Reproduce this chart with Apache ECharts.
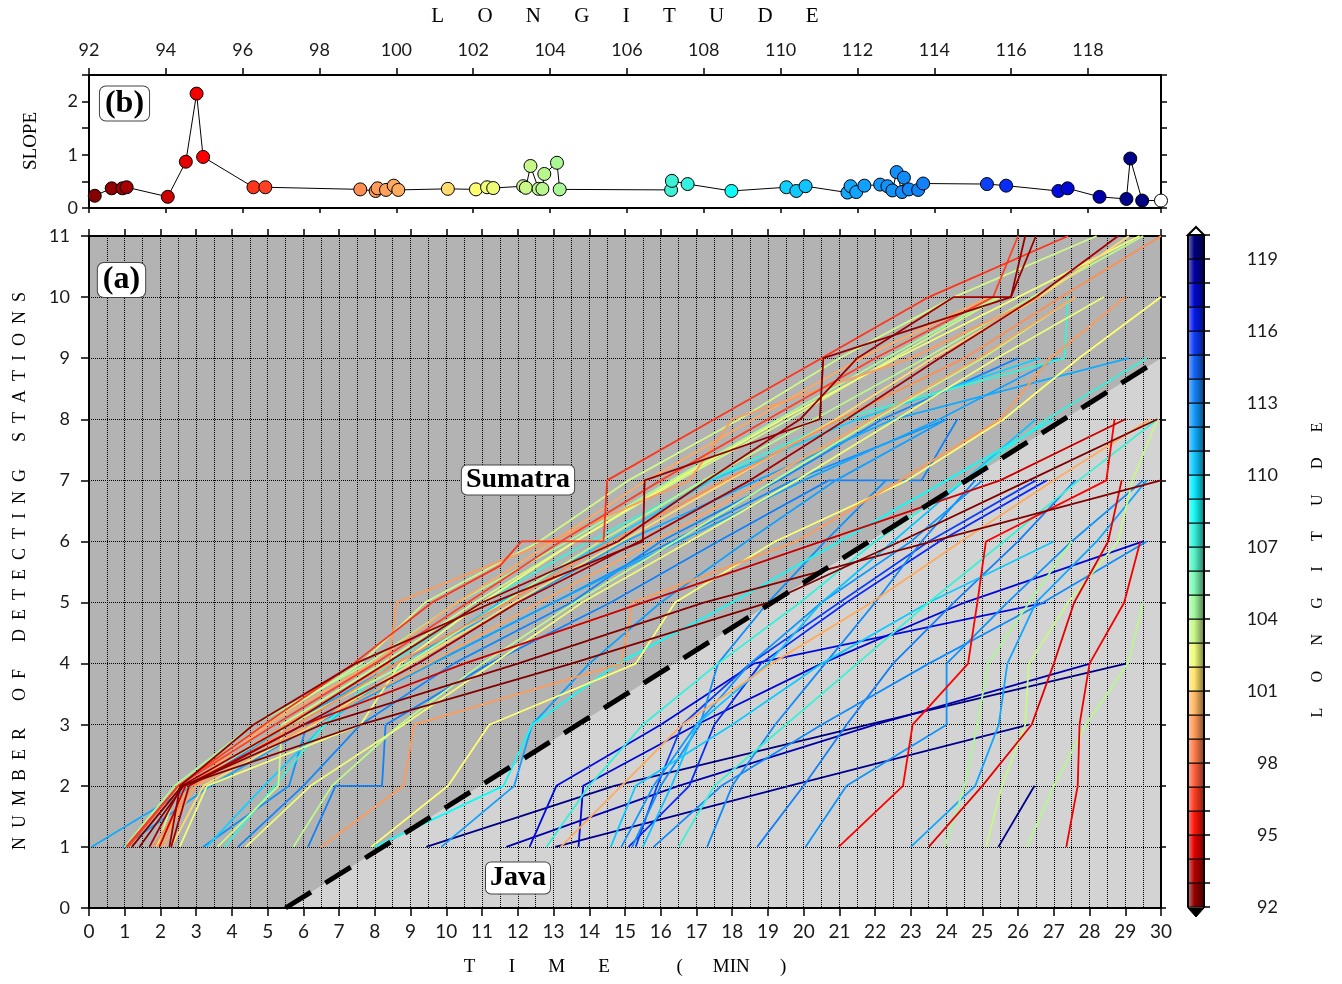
<!DOCTYPE html>
<html>
<head>
<meta charset="utf-8">
<script src="https://cdn.jsdelivr.net/npm/echarts@6/dist/echarts.min.js"></script>
<style>
  html, body { margin: 0; padding: 0; background: #ffffff; }
  #chart { width: 1342px; height: 984px; }
</style>
</head>
<body>
<div id="chart"></div>
<script>
// ---------- panel (b): slope of each detection curve vs. epicentre longitude ----------
const slopeLon = [91.92, 92.15, 92.59, 92.87, 92.98, 94.05, 94.52, 94.80, 94.97, 96.28, 96.59,
  99.06, 99.46, 99.51, 99.73, 99.93, 100.05, 101.34, 102.07, 102.36, 102.52,
  103.30, 103.37, 103.49, 103.70, 103.80, 103.85, 104.18, 104.25,
  107.15, 107.17, 107.58, 108.72, 110.15, 110.41, 110.65,
  111.74, 111.82, 111.97, 112.18, 112.59, 112.78, 112.91, 113.02, 113.16, 113.21, 113.34, 113.58, 113.71,
  115.37, 115.87, 117.23, 117.47, 118.30, 119.00, 119.10, 119.41, 119.90];
const slopeVal = [0.21, 0.23, 0.37, 0.37, 0.39, 0.21, 0.87, 2.15, 0.96, 0.39, 0.39,
  0.35, 0.32, 0.37, 0.34, 0.42, 0.34, 0.36, 0.35, 0.39, 0.375,
  0.41, 0.38, 0.79, 0.36, 0.36, 0.64, 0.85, 0.35,
  0.34, 0.51, 0.45, 0.32, 0.39, 0.32, 0.41,
  0.29, 0.41, 0.30, 0.42, 0.44, 0.41, 0.33, 0.675, 0.30, 0.57, 0.35, 0.34, 0.46,
  0.45, 0.42, 0.32, 0.37, 0.21, 0.17, 0.93, 0.14, 0.14];

// ---------- panel (a): [time (min), number of detecting stations] per event ----------
// Sumatra events
const ev9192 = [[1.2,1],[2.6,2],[7.6,3],[13.5,4],[19.0,5],[22.7,6],[26.3,7],[29.9,8]];
const ev9215 = [[1.41,1],[2.65,2],[6.5,3],[12.0,4],[17.2,5],[23.6,6],[30.0,7]];
const ev9259 = [[2.25,1],[2.55,2],[4.6,3],[7.45,4],[11.3,5],[15.5,6],[15.55,7],[20.45,8],[20.55,9],[25.8,10],[26.2,11]];
const ev9287 = [[1.69,1],[2.6,2],[5.6,3],[8.3,4],[11.0,5],[14.8,6],[17.3,7],[19.9,8],[21.5,9],[24.2,10],[25.8,10],[26.5,11]];
const ev9298 = [[2.3,1],[2.8,2],[6.0,3],[9.2,4],[12.0,5],[15.4,6],[18.5,7],[21.2,8],[23.8,9],[26.5,10],[28.8,11]];
const ev9405 = [[1.97,1],[2.7,2],[6.0,3],[10.5,4],[15.5,5],[20.5,6],[25.5,7],[29.0,8]];
const ev9452 = [[23.5,1],[25.0,2],[26.38,3],[27.0,4],[27.57,5],[28.52,6],[28.9,7]];
const ev9480 = [[27.35,1],[27.67,2],[27.72,3],[28.0,4],[28.97,5],[29.42,6]];
const ev9497 = [[20.98,1],[22.78,2],[23.05,3],[24.6,4],[24.86,5],[25.1,6],[28.47,7],[28.7,8]];
const ev9628 = [[1.04,1],[2.5,2],[4.9,3],[7.4,4],[9.6,5],[11.5,5.6],[12.1,6],[14.4,6],[14.5,7],[17.5,8],[20.5,9],[23.5,10],[27.4,11]];
const ev9659 = [[1.1,1],[2.5,2],[5.2,3],[8.0,4],[10.6,5],[13.2,6],[16.0,7],[19.0,8],[22.0,9],[25.3,10],[26.0,11]];
const ev9906 = [[1.8,1],[2.9,2],[5.8,3],[8.6,4],[11.7,5],[14.6,6],[17.8,7],[21.0,8],[24.5,9],[27.2,10],[30.0,11]];
const ev9946 = [[6.5,1],[8.8,2],[9.1,3],[14.9,4],[15.2,5],[19.8,6],[22.7,7],[25.5,8],[26.9,9],[29.0,10]];
const ev9951 = [[2.0,1],[2.7,2],[5.5,3],[8.4,4],[8.6,5],[12.9,6],[16.8,7],[18.0,8],[23.0,9],[26.6,10]];
const ev9973 = [[1.9,1],[3.0,2],[6.2,3],[9.5,4],[12.6,5],[15.8,6],[18.9,7],[21.9,8],[24.9,9],[27.6,10]];
const ev9993 = [[2.1,1],[2.8,2],[5.0,3],[7.9,4],[10.3,5],[13.0,6],[15.6,7],[18.6,8],[21.6,9],[25.2,10]];
const ev10005 = [[13.2,1],[14.9,2],[16.6,3],[19.1,4],[21.9,5],[24.4,6],[27.0,7],[29.7,8]];
const ev10134 = [[2.3,1],[3.2,2],[6.3,3],[9.0,4],[11.9,5],[14.9,6],[17.9,7],[20.9,8],[23.6,9],[26.6,10],[29.1,11]];
const ev10207 = [[7.9,1],[10.05,2],[11.2,3],[15.3,4],[16.4,5],[19.2,6],[22.9,7],[25.6,8],[27.7,9],[30.0,10]];
const ev10236 = [[2.54,1],[3.3,2],[7.6,3],[8.7,4],[11.0,5],[13.6,6],[16.4,7],[19.4,8],[22.6,9],[26.0,10],[29.4,11]];
const ev10252 = [[4.39,1],[6.2,2],[8.8,3],[11.3,4],[13.8,5],[16.8,6],[19.8,7],[22.6,8],[25.4,9],[28.4,10]];
const ev10330 = [[1.9,1],[2.5,2],[4.9,3],[7.6,4],[9.4,5],[12.6,6],[15.1,7],[18.2,8],[21.0,9],[24.2,10],[28.2,11]];
const ev10337 = [[3.6,1],[5.3,2],[5.4,3],[8.2,4],[10.8,5],[13.6,6],[16.5,7],[19.6,8],[22.5,9],[25.5,10]];
const ev10349 = [[25.1,1],[25.55,2],[26.2,3],[26.3,4],[27.4,5],[28.8,6],[29.2,7],[29.9,8]];
const ev10370 = [[5.72,1],[6.8,2],[8.7,3],[11.0,4],[13.6,5],[16.4,6],[19.2,7],[22.0,8],[25.0,9],[27.6,10]];
const ev10380 = [[2.0,1],[2.7,2],[5.6,3],[8.9,4],[11.6,5],[14.3,6],[17.2,7],[20.3,8],[23.4,9],[26.4,10],[29.5,11]];
const ev10385 = [[26.25,1],[27.0,2],[27.9,3],[29.07,4],[29.5,5]];
const ev10418 = [[23.95,1],[24.5,2],[24.86,3],[25.16,4],[26.31,5],[27.5,6]];
const ev10425 = [[1.0,1],[2.4,2],[4.6,3],[7.8,4],[10.3,5],[13.4,6],[16.3,7],[19.3,8],[22.3,9],[25.4,10]];
// Java events
const ev10715 = [[3.8,1],[5.2,2],[6.6,3],[8.4,4],[11.0,5],[14.0,6],[17.3,7],[21.0,8],[27.3,9],[27.4,10]];
const ev10717 = [[16.5,1],[17.5,2],[19.5,3],[21.5,4],[23.5,5],[25.6,6],[27.7,7],[29.9,8]];
const ev10758 = [[12.8,1],[14.0,2],[15.5,3],[17.6,4],[19.9,5],[22.0,6],[24.5,7],[26.8,8],[29.6,9]];
const ev10872 = [[8.0,1],[11.6,2],[12.4,3],[14.8,4],[18.0,5],[21.0,6],[24.0,7],[27.0,8]];
const ev11015 = [[3.29,1],[4.9,2],[6.6,3],[8.9,4],[11.5,5],[14.5,6],[17.4,7],[21.5,8],[26.6,9]];
const ev11041 = [[14.6,1],[15.3,2],[18.0,3],[20.5,4],[23.5,5],[27.0,6]];
const ev11065 = [[15.5,1],[16.3,2],[17.0,3],[19.0,4],[20.5,5],[22.5,6],[24.5,7],[26.5,8]];
const ev11174 = [[0.07,1],[2.9,2],[5.6,3],[8.6,4],[12.0,5],[15.0,6],[18.7,7],[22.5,8],[29.1,9]];
const ev11182 = [[23.0,1],[24.8,2],[25.46,3],[25.7,4],[26.5,5],[28.2,6],[29.6,7]];
const ev11197 = [[0.95,1],[3.4,2],[6.3,3],[9.6,4],[13.0,5],[16.5,6],[20.0,7],[23.8,8],[27.1,9]];
const ev11218 = [[9.86,1],[11.9,2],[12.4,3],[14.0,4],[16.0,5],[18.4,6],[20.9,7],[24.0,8]];
const ev11259 = [[14.9,1],[15.8,2],[17.0,3],[18.5,4],[20.5,5],[23.0,6],[25.0,7]];
const ev11278 = [[20.05,1],[21.2,2],[24.0,3],[24.0,4],[25.7,5],[27.5,6],[29.5,7]];
const ev11291 = [[3.19,1],[5.6,2],[6.1,3],[9.6,4],[13.0,5],[16.3,6],[19.7,7],[24.0,8]];
const ev11302 = [[15.2,1],[16.0,2],[17.1,3],[17.6,4],[19.0,5],[20.6,6],[22.3,7]];
const ev11316 = [[15.8,1],[17.7,2],[20.5,3],[23.5,4],[26.7,5],[29.6,6]];
const ev11321 = [[17.3,1],[18.0,2],[19.2,3],[20.6,4],[22.0,5],[23.3,6],[24.8,7]];
const ev11334 = [[4.17,1],[6.0,2],[7.6,3],[10.2,4],[13.5,5],[16.0,6],[19.3,7],[22.2,8],[26.0,9]];
const ev11358 = [[6.13,1],[6.9,2],[8.2,2],[8.3,3],[11.2,4],[14.6,5],[17.6,6],[20.7,7],[23.3,7],[24.3,8]];
const ev11371 = [[18.7,1],[20.0,2],[21.2,3],[22.5,4],[24.2,5],[26.0,6],[27.6,7]];
const ev11537 = [[15.3,1],[15.9,2],[16.6,3],[18.5,4],[21.0,5],[23.5,6],[26.5,7]];
const ev11587 = [[15.1,1],[16.8,2],[17.5,3],[18.8,4],[21.2,5],[23.8,6],[26.8,7]];
const ev11723 = [[12.33,1],[13.08,2],[16.0,3],[18.6,4],[26.77,5]];
const ev11747 = [[13.7,1],[13.83,2],[17.0,3],[20.5,4],[24.5,5],[29.5,6]];
const ev11830 = [[11.68,1],[16.5,2],[22.0,3],[28.02,4]];
const ev11900 = [[13.05,1],[19.6,2],[26.3,3]];
const ev11910 = [[25.45,1],[26.46,2]];
const ev11941 = [[9.44,1],[14.7,2],[21.8,3],[29.02,4]];

const events = [
  {lon: 91.92, path: ev9192}, {lon: 92.15, path: ev9215}, {lon: 92.59, path: ev9259},
  {lon: 92.87, path: ev9287}, {lon: 92.98, path: ev9298}, {lon: 94.05, path: ev9405},
  {lon: 94.52, path: ev9452}, {lon: 94.80, path: ev9480}, {lon: 94.97, path: ev9497},
  {lon: 96.28, path: ev9628}, {lon: 96.59, path: ev9659}, {lon: 99.06, path: ev9906},
  {lon: 99.46, path: ev9946}, {lon: 99.51, path: ev9951}, {lon: 99.73, path: ev9973},
  {lon: 99.93, path: ev9993}, {lon: 100.05, path: ev10005}, {lon: 101.34, path: ev10134},
  {lon: 102.07, path: ev10207}, {lon: 102.36, path: ev10236}, {lon: 102.52, path: ev10252},
  {lon: 103.30, path: ev10330}, {lon: 103.37, path: ev10337}, {lon: 103.49, path: ev10349},
  {lon: 103.70, path: ev10370}, {lon: 103.80, path: ev10380}, {lon: 103.85, path: ev10385},
  {lon: 104.18, path: ev10418}, {lon: 104.25, path: ev10425},
  {lon: 107.15, path: ev10715}, {lon: 107.17, path: ev10717}, {lon: 107.58, path: ev10758},
  {lon: 108.72, path: ev10872}, {lon: 110.15, path: ev11015}, {lon: 110.41, path: ev11041},
  {lon: 110.65, path: ev11065}, {lon: 111.74, path: ev11174}, {lon: 111.82, path: ev11182},
  {lon: 111.97, path: ev11197}, {lon: 112.18, path: ev11218}, {lon: 112.59, path: ev11259},
  {lon: 112.78, path: ev11278}, {lon: 112.91, path: ev11291}, {lon: 113.02, path: ev11302},
  {lon: 113.16, path: ev11316}, {lon: 113.21, path: ev11321}, {lon: 113.34, path: ev11334},
  {lon: 113.58, path: ev11358}, {lon: 113.71, path: ev11371}, {lon: 115.37, path: ev11537},
  {lon: 115.87, path: ev11587}, {lon: 117.23, path: ev11723}, {lon: 117.47, path: ev11747},
  {lon: 118.30, path: ev11830}, {lon: 119.00, path: ev11900}, {lon: 119.10, path: ev11910},
  {lon: 119.41, path: ev11941}
];

// Sumatra / Java separator: [time, stations] end points
const separator = [[5.5, 0], [30, 9]];

// colour bar bins (1 degree each)
const cbBins = [92,93,94,95,96,97,98,99,100,101,102,103,104,105,106,107,108,109,110,111,112,113,114,115,116,117,118,119];
const LON_MIN = 92, LON_MAX = 119.9, CB_MAX = 120;

// ---------- colour scale ----------
const cmapStops = [
  [92,'#800000'],[93,'#a40000'],[94,'#c80000'],[95,'#ff0000'],[96,'#ff2a10'],[97,'#ff5030'],
  [98,'#ff7044'],[99,'#ff8c50'],[100,'#ffaa60'],[101,'#ffc868'],[102,'#ffff70'],[103,'#dcf882'],
  [104,'#b0f890'],[105,'#90f8a8'],[106,'#68f8c0'],[107,'#40f0d0'],[108,'#28f4e8'],[109,'#00ffff'],
  [110,'#10d4ff'],[111,'#10bcff'],[112,'#10a4ff'],[113,'#1090f8'],[114,'#1478f8'],[115,'#1050f8'],
  [116,'#0828f8'],[117,'#0010e8'],[118,'#0000b8'],[119,'#00008c'],[120,'#000070']];
function hexRgb(h) { return [parseInt(h.slice(1,3),16), parseInt(h.slice(3,5),16), parseInt(h.slice(5,7),16)]; }
function rgbStr(c) { return 'rgb(' + c.map(v => Math.round(Math.max(0, Math.min(255, v)))).join(',') + ')'; }
function colorRgb(lon) {
  if (lon <= cmapStops[0][0]) return hexRgb(cmapStops[0][1]);
  for (let i = 0; i < cmapStops.length - 1; i++) {
    const a = cmapStops[i], b = cmapStops[i + 1];
    if (lon <= b[0]) {
      const f = (lon - a[0]) / (b[0] - a[0]);
      const ca = hexRgb(a[1]), cb = hexRgb(b[1]);
      return ca.map((v, k) => v + (cb[k] - v) * f);
    }
  }
  return hexRgb(cmapStops[cmapStops.length - 1][1]);
}
function colorOf(lon) { return lon >= LON_MAX ? '#ffffff' : rgbStr(colorRgb(lon)); }
function mix(c, t, f) { return c.map((v, k) => v + (t[k] - v) * f); }

// ---------- text helpers ----------
const SERIF = '"Liberation Serif", "DejaVu Serif", serif';
const SANS = 'Lato, "Noto Sans", sans-serif';
function spaced(words, gap, wordGap) { return words.map(w => w.split('').join(gap)).join(wordGap); }

const chart = echarts.init(document.getElementById('chart'), null, {renderer: 'canvas'});

const tickFont = {fontFamily: SANS, fontSize: 18, color: '#1a1a1a'};
const frameLine = {show: true, onZero: false, lineStyle: {color: '#000', width: 2}};
const dotted = {color: '#000', width: 1, type: [1, 1]};

const eventSeries = events.slice().sort((a, b) => b.lon - a.lon).map(ev => ({
  type: 'line', xAxisIndex: 2, yAxisIndex: 2, data: ev.path, showSymbol: false,
  lineStyle: {color: colorOf(ev.lon), width: 1.8}, z: 4, silent: true, clip: true
}));

const G = '\u2003\u2002\u200A';
const GT = '\u2003\u2002 ';
const option = {
  animation: false,
  backgroundColor: '#ffffff',
  grid: [
    {left: 89, top: 75, width: 1072, height: 133, show: false},
    {left: 89, top: 236, width: 1072, height: 672, show: true, backgroundColor: '#b3b3b3', borderWidth: 0},
    {left: 1188, top: 235, width: 16, height: 672, show: false}
  ],
  xAxis: [
    {gridIndex: 0, type: 'value', position: 'top', min: LON_MIN, max: LON_MAX, interval: 2,
      axisLine: frameLine, axisTick: {show: true, length: 7, lineStyle: {color: '#000', width: 1.5}},
      axisLabel: Object.assign({margin: 16, showMaxLabel: false}, tickFont), splitLine: {show: false}},
    {gridIndex: 0, type: 'value', position: 'bottom', min: LON_MIN, max: LON_MAX, interval: 2,
      axisLine: frameLine, axisTick: {show: true, length: 5, lineStyle: {color: '#000', width: 1.5}},
      axisLabel: {show: false}, splitLine: {show: false}},
    {gridIndex: 1, type: 'value', position: 'bottom', min: 0, max: 30, interval: 1, z: 2,
      axisLine: frameLine, axisTick: {show: true, length: 8, lineStyle: {color: '#000', width: 1.5}},
      axisLabel: Object.assign({margin: 14}, tickFont, {fontSize: 19}),
      splitLine: {show: true, lineStyle: dotted},
      minorTick: {show: false, splitNumber: 2}, minorSplitLine: {show: true, lineStyle: dotted}},
    {gridIndex: 1, type: 'value', position: 'top', min: 0, max: 30, interval: 1, z: 2,
      axisLine: frameLine, axisTick: {show: true, length: 7, lineStyle: {color: '#000', width: 1.5}},
      axisLabel: {show: false}, splitLine: {show: false}},
    {gridIndex: 2, type: 'value', min: 0, max: 1, show: false}
  ],
  yAxis: [
    {gridIndex: 0, type: 'value', min: 0, max: 2.5, interval: 0.5,
      axisLine: frameLine, axisTick: {show: true, length: 7, lineStyle: {color: '#000', width: 1.5}},
      axisLabel: Object.assign({margin: 11, formatter: v => (Math.abs(v - Math.round(v)) < 1e-6 ? String(v) : '')}, tickFont),
      splitLine: {show: false}},
    {gridIndex: 0, type: 'value', position: 'right', min: 0, max: 2.5, interval: 0.5,
      axisLine: frameLine, axisTick: {show: true, length: 6, lineStyle: {color: '#000', width: 1.5}},
      axisLabel: {show: false}, splitLine: {show: false}},
    {gridIndex: 1, type: 'value', min: 0, max: 11, interval: 1, z: 2,
      axisLine: frameLine, axisTick: {show: true, length: 8, lineStyle: {color: '#000', width: 1.5}},
      axisLabel: Object.assign({margin: 19}, tickFont), splitLine: {show: true, lineStyle: dotted}},
    {gridIndex: 1, type: 'value', position: 'right', min: 0, max: 11, interval: 1, z: 2,
      axisLine: frameLine, axisTick: {show: true, length: 5, lineStyle: {color: '#000', width: 1.5}},
      axisLabel: {show: false}, splitLine: {show: false}},
    {gridIndex: 2, type: 'value', position: 'right', min: LON_MIN, max: CB_MAX, interval: 1, z: 5,
      axisLine: frameLine, axisTick: {show: true, length: 6, lineStyle: {color: '#000', width: 1.5}},
      axisLabel: Object.assign({margin: 74, align: 'right', formatter: v => ((v - LON_MIN) % 3 === 0 && v < CB_MAX ? String(v) : '')}, tickFont),
      splitLine: {show: false}},
    {gridIndex: 2, type: 'value', position: 'left', min: LON_MIN, max: CB_MAX, z: 5,
      axisLine: frameLine, axisTick: {show: false}, axisLabel: {show: false}, splitLine: {show: false}}
  ],
  series: [
    // light background below the separator
    {type: 'line', xAxisIndex: 2, yAxisIndex: 2, data: separator, showSymbol: false, silent: true, z: 1,
      lineStyle: {width: 0, opacity: 0}, areaStyle: {color: '#d3d3d3', opacity: 1}},
    ...eventSeries,
    // separator line
    {type: 'line', xAxisIndex: 2, yAxisIndex: 2, data: separator, showSymbol: false, silent: true, z: 6,
      lineStyle: {color: '#000', width: 5, type: [30, 17]}},
    // slope vs longitude
    {type: 'line', xAxisIndex: 0, yAxisIndex: 0, showAllSymbol: true, symbol: 'circle', symbolSize: 13, z: 4, clip: true,
      data: slopeLon.map((x, i) => ({value: [x, slopeVal[i]], itemStyle: {color: colorOf(x)}})),
      itemStyle: {borderColor: '#000', borderWidth: 1},
      lineStyle: {color: '#000', width: 1}},
    // colour bar
    {type: 'custom', xAxisIndex: 4, yAxisIndex: 4, silent: true, z: 3,
      data: cbBins.map(b => [0, b]), encode: {x: 0, y: 1},
      renderItem: (params, api) => {
        const lo = api.value(1);
        const p0 = api.coord([0, lo + 1]);
        const p1 = api.coord([1, lo]);
        const c = colorRgb(lo + 0.5);
        return {
          type: 'rect',
          shape: {x: p0[0], y: p0[1], width: p1[0] - p0[0], height: p1[1] - p0[1]},
          style: {
            fill: new echarts.graphic.LinearGradient(0, 0, 1, 0, [
              {offset: 0, color: rgbStr(mix(c, [255,255,255], 0.5))},
              {offset: 0.4, color: rgbStr(c)},
              {offset: 1, color: rgbStr(mix(c, [0,0,0], 0.5))}
            ]),
            stroke: '#000', lineWidth: 1
          }
        };
      }}
  ],
  graphic: [
    // colour bar end triangles
    {type: 'polygon', shape: {points: [[1188, 235], [1204, 235], [1196, 227]]}, style: {fill: '#ffffff', stroke: '#000', lineWidth: 2}, z: 10},
    {type: 'polygon', shape: {points: [[1188, 908], [1204, 908], [1196, 917]]}, style: {fill: '#000', stroke: '#000', lineWidth: 1}, z: 10},
    // axis titles
    {type: 'text', x: 625, y: 16, z: 10, style: {text: spaced(['LONGITUDE'], G, ''), font: '21px ' + SERIF, fill: '#000', align: 'center', verticalAlign: 'middle'}},
    {type: 'text', x: 625, y: 967, z: 10, style: {text: 'T' + GT + 'I' + GT + 'M' + GT + 'E' + '\u2003\u2003\u2003\u2002(' + G + 'MIN' + G + ')', font: '19px ' + SERIF, fill: '#000', align: 'center', verticalAlign: 'middle'}},
    {type: 'text', x: 20, y: 571, rotation: Math.PI / 2, z: 10, style: {text: spaced(['NUMBER', 'OF', 'DETECTING', 'STATIONS'], '\u2002', '\u2002\u2002\u2002'), font: '18px ' + SERIF, fill: '#000', align: 'center', verticalAlign: 'middle'}},
    {type: 'text', x: 31, y: 141, rotation: Math.PI / 2, z: 10, style: {text: 'SLOPE', font: '19px ' + SERIF, fill: '#000', align: 'center', verticalAlign: 'middle'}},
    {type: 'text', x: 1318, y: 570, rotation: Math.PI / 2, z: 10, style: {text: spaced(['LONGITUDE'], G, ''), font: '16px ' + SERIF, fill: '#000', align: 'center', verticalAlign: 'middle'}},
    // panel tags and region labels
    {type: 'text', x: 124.5, y: 103.5, z: 10, style: {text: '(b)', font: 'bold 32px ' + SERIF, fill: '#000', align: 'center', verticalAlign: 'middle', backgroundColor: '#fff', borderColor: '#444', borderWidth: 1, borderRadius: 6, padding: [1, 5, 1, 5]}},
    {type: 'text', x: 121.5, y: 280, z: 10, style: {text: '(a)', font: 'bold 32px ' + SERIF, fill: '#000', align: 'center', verticalAlign: 'middle', backgroundColor: '#fff', borderColor: '#444', borderWidth: 1, borderRadius: 6, padding: [1, 5, 1, 5]}},
    {type: 'text', x: 518, y: 480, z: 10, style: {text: 'Sumatra', font: 'bold 28px ' + SERIF, fill: '#000', align: 'center', verticalAlign: 'middle', backgroundColor: '#fff', borderColor: '#444', borderWidth: 1, borderRadius: 5, padding: [1, 4, 0, 4]}},
    {type: 'text', x: 518, y: 878, z: 10, style: {text: 'Java', font: 'bold 28px ' + SERIF, fill: '#000', align: 'center', verticalAlign: 'middle', backgroundColor: '#fff', borderColor: '#444', borderWidth: 1, borderRadius: 5, padding: [2, 4, 1, 4]}}
  ]
};

chart.setOption(option);
</script>
</body>
</html>
